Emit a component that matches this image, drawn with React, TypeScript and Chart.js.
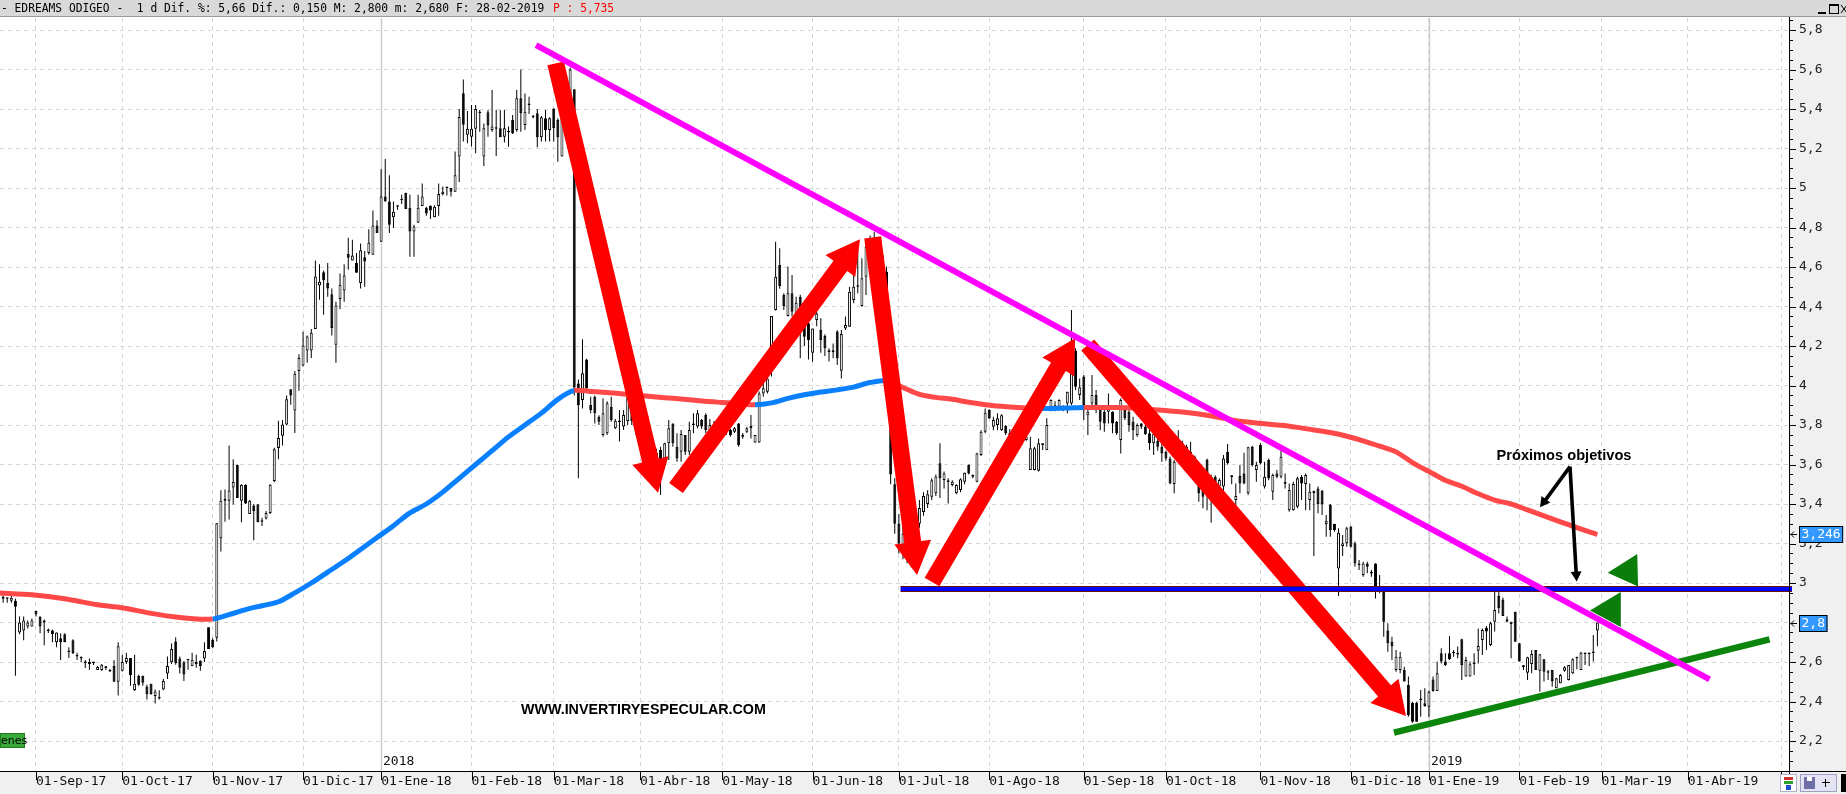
import React, { useEffect, useRef } from 'react';
import { Chart, registerables } from 'chart.js';

Chart.register(...registerables);

const W = 1846;
const H = 794;

// ---------------- DATA (daily candles, x = trading-day index) ----------------
const firstIdx = 1;

const openP = [
  2.92, 2.92, 2.91, 2.91, 2.75, 2.76, 2.78, 2.78, 2.86, 2.83,
  2.81, 2.76, 2.76, 2.70, 2.72, 2.74, 2.65, 2.71, 2.63, 2.62,
  2.594, 2.59, 2.595, 2.56, 2.56, 2.57, 2.552, 2.58, 2.50, 2.556,
  2.60, 2.62, 2.457, 2.53, 2.53, 2.476, 2.49, 2.428, 2.422, 2.461,
  2.542, 2.599, 2.704, 2.618, 2.599, 2.61, 2.58, 2.59, 2.605, 2.618,
  2.776, 2.713, 2.723, 3.227, 3.417, 3.417, 3.483, 3.597, 3.417, 3.498,
  3.35, 3.392, 3.398, 3.315, 3.327, 3.354, 3.517, 3.683, 3.746, 3.803,
  3.981, 3.873, 4.073, 4.101, 4.177, 4.177, 4.286, 4.506, 4.573, 4.519,
  4.462, 4.206, 4.438, 4.481, 4.666, 4.633, 4.62, 4.519, 4.649, 4.671,
  4.662, 4.81, 4.728, 4.957, 4.932, 4.852, 4.905, 4.938, 4.976, 4.90,
  4.78, 4.824, 4.909, 4.90, 4.909, 4.852, 4.909, 4.97, 5.0, 5.0,
  4.981, 5.16, 5.48, 5.27, 5.26, 5.30, 5.386, 5.159, 5.383, 5.294,
  5.302, 5.302, 5.26, 5.282, 5.344, 5.294, 5.454, 5.319, 5.42, 5.358,
  5.378, 5.257, 5.353, 5.294, 5.403, 5.344, 5.159, 5.40, 5.40, 5.50,
  4.01, 3.927, 4.132, 3.901, 3.943, 3.842, 3.749, 3.758, 3.893, 3.783,
  3.817, 3.792, 3.82, 3.90, 3.83, 3.78, 3.72, 3.76, 3.70, 3.62,
  3.673, 3.631, 3.707, 3.808, 3.69, 3.665, 3.749, 3.665, 3.80, 3.792,
  3.825, 3.851, 3.77, 3.80, 3.76, 3.80, 3.77, 3.775, 3.766, 3.808,
  3.741, 3.766, 3.795, 3.712, 3.712, 3.96, 3.969, 4.18, 4.382, 4.61,
  4.458, 4.352, 4.467, 4.349, 4.45, 4.315, 4.315, 4.166, 4.332, 4.281,
  4.251, 4.171, 4.171, 4.273, 4.075, 4.289, 4.298, 4.433, 4.50, 4.403,
  4.551, 4.65, 4.72, 4.62, 4.66, 4.576, 4.00, 3.50, 3.30, 3.18,
  3.25, 3.16, 3.12, 3.30, 3.36, 3.40, 3.437, 3.454, 3.606, 3.521,
  3.513, 3.496, 3.454, 3.471, 3.513, 3.597, 3.547, 3.513, 3.648, 3.766,
  3.876, 3.791, 3.80, 3.774, 3.795, 3.76, 3.72, 3.76, 3.72, 3.724,
  3.572, 3.572, 3.569, 3.699, 3.673, 3.88, 3.88, 3.893, 3.884, 3.909,
  3.909, 4.176, 3.952, 4.045, 3.85, 3.909, 3.952, 3.893, 3.867, 3.867,
  3.867, 3.817, 3.724, 3.876, 3.867, 3.817, 3.749, 3.808, 3.791, 3.758,
  3.707, 3.72, 3.69, 3.665, 3.631, 3.501, 3.72, 3.707, 3.69, 3.665,
  3.639, 3.53, 3.53, 3.623, 3.437, 3.538, 3.488, 3.488, 3.665, 3.538,
  3.42, 3.542, 3.555, 3.454, 3.69, 3.572, 3.699, 3.488, 3.623, 3.462,
  3.555, 3.538, 3.504, 3.369, 3.369, 3.386, 3.538, 3.501, 3.42, 3.467,
  3.479, 3.467, 3.299, 3.395, 3.299, 3.074, 3.187, 3.201, 3.285, 3.201,
  3.091, 3.04, 3.099, 3.049, 3.099, 2.973, 2.956, 2.759, 2.703, 2.56,
  2.56, 2.56, 2.484, 2.394, 2.394, 2.408, 2.391, 2.374, 2.512, 2.453,
  2.644, 2.602, 2.644, 2.652, 2.639, 2.715, 2.526, 2.526, 2.588, 2.657,
  2.711, 2.774, 2.686, 2.804, 2.934, 2.917, 2.816, 2.792, 2.855, 2.695,
  2.576, 2.546, 2.59, 2.661, 2.556, 2.614, 2.546, 2.56, 2.467, 2.492,
  2.556, 2.509, 2.543, 2.619, 2.56, 2.64, 2.64, 2.645, 2.76,
];

const highP = [
  2.94, 2.925, 2.935, 2.92, 2.83, 2.83, 2.81, 2.82, 2.86, 2.83,
  2.815, 2.77, 2.765, 2.75, 2.745, 2.745, 2.675, 2.715, 2.647, 2.628,
  2.61, 2.618, 2.60, 2.58, 2.59, 2.58, 2.565, 2.61, 2.70, 2.637,
  2.647, 2.62, 2.637, 2.535, 2.53, 2.485, 2.49, 2.461, 2.457, 2.514,
  2.628, 2.694, 2.725, 2.628, 2.605, 2.61, 2.647, 2.637, 2.609, 2.70,
  2.776, 2.72, 3.303, 3.47, 3.474, 3.696, 3.626, 3.60, 3.50, 3.50,
  3.42, 3.40, 3.40, 3.331, 3.365, 3.50, 3.685, 3.822, 3.825, 3.949,
  3.981, 4.073, 4.158, 4.272, 4.253, 4.286, 4.633, 4.614, 4.582, 4.62,
  4.491, 4.424, 4.567, 4.614, 4.748, 4.738, 4.671, 4.719, 4.681, 4.791,
  4.886, 4.837, 5.095, 5.147, 5.065, 4.932, 4.913, 4.966, 4.976, 4.966,
  4.814, 4.966, 5.023, 4.905, 4.913, 4.913, 5.023, 5.008, 5.0, 5.0,
  5.185, 5.40, 5.55, 5.39, 5.42, 5.42, 5.395, 5.327, 5.395, 5.496,
  5.395, 5.395, 5.395, 5.311, 5.37, 5.496, 5.60, 5.479, 5.462, 5.37,
  5.40, 5.365, 5.395, 5.358, 5.403, 5.353, 5.395, 5.45, 5.61, 5.50,
  4.03, 4.234, 4.135, 3.943, 3.95, 3.85, 3.935, 3.92, 3.943, 3.83,
  3.876, 3.876, 3.96, 3.93, 3.85, 3.80, 3.78, 3.77, 3.72, 3.68,
  3.69, 3.71, 3.825, 3.808, 3.758, 3.775, 3.75, 3.817, 3.859, 3.876,
  3.83, 3.86, 3.83, 3.82, 3.81, 3.82, 3.80, 3.78, 3.79, 3.81,
  3.76, 3.79, 3.851, 3.75, 3.97, 4.045, 4.05, 4.352, 4.728, 4.695,
  4.467, 4.602, 4.559, 4.45, 4.46, 4.33, 4.332, 4.289, 4.40, 4.34,
  4.26, 4.188, 4.213, 4.28, 4.281, 4.349, 4.50, 4.585, 4.686, 4.644,
  4.72, 4.76, 4.779, 4.70, 4.68, 4.602, 4.05, 3.53, 3.35, 3.30,
  3.28, 3.20, 3.32, 3.42, 3.46, 3.47, 3.53, 3.55, 3.707, 3.564,
  3.53, 3.52, 3.50, 3.53, 3.56, 3.60, 3.55, 3.66, 3.774, 3.884,
  3.88, 3.842, 3.859, 3.855, 3.80, 3.78, 3.78, 3.77, 3.76, 3.75,
  3.741, 3.69, 3.732, 3.707, 3.834, 3.93, 3.92, 3.93, 3.90, 3.969,
  4.382, 4.188, 4.036, 4.053, 3.893, 4.053, 3.977, 3.895, 3.893, 3.96,
  3.87, 3.82, 3.935, 3.88, 3.893, 3.842, 3.808, 3.81, 3.80, 3.783,
  3.774, 3.73, 3.724, 3.67, 3.64, 3.623, 3.774, 3.72, 3.70, 3.715,
  3.645, 3.54, 3.54, 3.63, 3.55, 3.545, 3.53, 3.648, 3.704, 3.547,
  3.504, 3.597, 3.66, 3.69, 3.695, 3.614, 3.707, 3.614, 3.631, 3.555,
  3.572, 3.699, 3.555, 3.504, 3.513, 3.538, 3.547, 3.555, 3.504, 3.467,
  3.488, 3.471, 3.344, 3.40, 3.30, 3.277, 3.243, 3.285, 3.29, 3.21,
  3.116, 3.108, 3.108, 3.066, 3.10, 3.041, 2.96, 2.796, 2.728, 2.661,
  2.652, 2.576, 2.526, 2.399, 2.399, 2.458, 2.467, 2.455, 2.526, 2.602,
  2.669, 2.644, 2.732, 2.661, 2.678, 2.718, 2.627, 2.602, 2.644, 2.77,
  2.77, 2.782, 2.804, 2.956, 2.956, 2.927, 2.83, 2.804, 2.855, 2.695,
  2.585, 2.627, 2.661, 2.661, 2.639, 2.615, 2.56, 2.56, 2.52, 2.539,
  2.58, 2.585, 2.619, 2.627, 2.652, 2.647, 2.647, 2.737, 2.80,
];

const lowP = [
  2.90, 2.90, 2.90, 2.53, 2.74, 2.71, 2.77, 2.78, 2.83, 2.745,
  2.685, 2.747, 2.70, 2.675, 2.61, 2.70, 2.62, 2.64, 2.61, 2.60,
  2.57, 2.56, 2.585, 2.56, 2.555, 2.56, 2.55, 2.50, 2.43, 2.552,
  2.59, 2.48, 2.453, 2.48, 2.48, 2.41, 2.434, 2.39, 2.41, 2.457,
  2.514, 2.59, 2.586, 2.542, 2.504, 2.561, 2.58, 2.571, 2.556, 2.60,
  2.666, 2.67, 2.704, 3.16, 3.31, 3.322, 3.398, 3.43, 3.308, 3.40,
  3.35, 3.217, 3.308, 3.289, 3.322, 3.35, 3.51, 3.626, 3.696, 3.797,
  3.902, 3.759, 3.974, 4.096, 4.115, 4.139, 4.286, 4.434, 4.358, 4.449,
  4.253, 4.115, 4.386, 4.424, 4.586, 4.633, 4.571, 4.491, 4.50, 4.662,
  4.662, 4.772, 4.728, 4.932, 4.772, 4.799, 4.89, 4.919, 4.894, 4.652,
  4.652, 4.824, 4.909, 4.86, 4.843, 4.852, 4.86, 4.962, 4.962, 4.957,
  4.981, 5.03, 5.235, 5.226, 5.21, 5.176, 5.285, 5.111, 5.26, 5.285,
  5.162, 5.257, 5.23, 5.209, 5.273, 5.285, 5.285, 5.294, 5.375, 5.353,
  5.206, 5.235, 5.235, 5.235, 5.235, 5.133, 5.159, 5.25, 5.38, 3.95,
  3.53, 3.884, 3.97, 3.859, 3.808, 3.80, 3.741, 3.75, 3.817, 3.78,
  3.716, 3.775, 3.80, 3.80, 3.75, 3.70, 3.70, 3.66, 3.60, 3.55,
  3.446, 3.62, 3.623, 3.69, 3.614, 3.614, 3.648, 3.648, 3.758, 3.783,
  3.78, 3.76, 3.75, 3.74, 3.74, 3.75, 3.75, 3.74, 3.76, 3.69,
  3.73, 3.76, 3.732, 3.71, 3.71, 3.943, 3.96, 4.045, 4.38, 4.49,
  4.382, 4.349, 4.35, 4.30, 4.138, 4.20, 4.132, 4.12, 4.30, 4.166,
  4.15, 4.121, 4.138, 4.104, 4.036, 4.281, 4.298, 4.416, 4.467, 4.399,
  4.458, 4.60, 4.60, 4.58, 4.55, 4.38, 3.50, 3.25, 3.15, 3.12,
  3.10, 3.08, 3.10, 3.28, 3.34, 3.38, 3.42, 3.44, 3.43, 3.479,
  3.403, 3.49, 3.45, 3.46, 3.50, 3.55, 3.53, 3.51, 3.643, 3.758,
  3.83, 3.774, 3.774, 3.77, 3.75, 3.71, 3.70, 3.70, 3.70, 3.72,
  3.572, 3.57, 3.564, 3.673, 3.673, 3.87, 3.87, 3.89, 3.87, 3.859,
  3.901, 3.977, 3.926, 3.825, 3.749, 3.893, 3.859, 3.774, 3.766, 3.808,
  3.758, 3.749, 3.656, 3.825, 3.766, 3.724, 3.741, 3.78, 3.75, 3.673,
  3.648, 3.67, 3.614, 3.62, 3.50, 3.454, 3.64, 3.68, 3.65, 3.61,
  3.51, 3.412, 3.378, 3.369, 3.305, 3.50, 3.48, 3.445, 3.60, 3.50,
  3.395, 3.454, 3.50, 3.445, 3.59, 3.513, 3.60, 3.479, 3.52, 3.42,
  3.53, 3.53, 3.479, 3.361, 3.366, 3.378, 3.42, 3.369, 3.369, 3.137,
  3.353, 3.344, 3.234, 3.234, 3.26, 2.934, 3.137, 3.184, 3.18, 3.082,
  3.066, 3.032, 3.049, 3.032, 2.922, 2.948, 2.728, 2.652, 2.61, 2.551,
  2.543, 2.501, 2.323, 2.293, 2.298, 2.323, 2.374, 2.323, 2.45, 2.453,
  2.593, 2.58, 2.61, 2.627, 2.619, 2.509, 2.526, 2.526, 2.534, 2.593,
  2.636, 2.661, 2.681, 2.754, 2.846, 2.833, 2.804, 2.619, 2.703, 2.602,
  2.56, 2.509, 2.543, 2.56, 2.45, 2.501, 2.509, 2.475, 2.467, 2.492,
  2.551, 2.506, 2.539, 2.563, 2.56, 2.585, 2.58, 2.602, 2.68,
];

const closeP = [
  2.93, 2.921, 2.925, 2.88, 2.80, 2.81, 2.80, 2.81, 2.84, 2.78,
  2.80, 2.757, 2.74, 2.75, 2.70, 2.70, 2.65, 2.645, 2.628, 2.618,
  2.594, 2.60, 2.594, 2.575, 2.586, 2.571, 2.56, 2.50, 2.68, 2.60,
  2.62, 2.533, 2.49, 2.485, 2.495, 2.438, 2.438, 2.451, 2.415, 2.504,
  2.58, 2.666, 2.594, 2.571, 2.537, 2.609, 2.612, 2.60, 2.58, 2.656,
  2.666, 2.675, 3.303, 3.417, 3.418, 3.468, 3.512, 3.43, 3.498, 3.403,
  3.417, 3.365, 3.308, 3.31, 3.354, 3.498, 3.677, 3.734, 3.803, 3.93,
  3.949, 4.059, 4.139, 4.202, 4.248, 4.267, 4.552, 4.525, 4.533, 4.491,
  4.291, 4.405, 4.51, 4.557, 4.647, 4.658, 4.571, 4.685, 4.628, 4.723,
  4.81, 4.772, 4.957, 4.932, 4.814, 4.88, 4.905, 4.938, 4.894, 4.78,
  4.805, 4.90, 4.957, 4.871, 4.886, 4.905, 4.97, 4.981, 5.0, 4.981,
  5.065, 5.36, 5.32, 5.30, 5.30, 5.40, 5.378, 5.302, 5.316, 5.311,
  5.30, 5.257, 5.302, 5.282, 5.277, 5.454, 5.378, 5.386, 5.42, 5.365,
  5.257, 5.358, 5.294, 5.353, 5.302, 5.257, 5.378, 5.30, 5.60, 3.99,
  3.90, 4.062, 3.986, 3.876, 3.859, 3.817, 3.859, 3.91, 3.825, 3.822,
  3.815, 3.851, 3.94, 3.82, 3.77, 3.72, 3.76, 3.69, 3.65, 3.66,
  3.623, 3.707, 3.783, 3.707, 3.631, 3.754, 3.665, 3.775, 3.80, 3.859,
  3.792, 3.775, 3.80, 3.76, 3.80, 3.77, 3.79, 3.75, 3.783, 3.699,
  3.749, 3.783, 3.783, 3.749, 3.96, 3.986, 4.036, 4.352, 4.551, 4.504,
  4.403, 4.467, 4.374, 4.419, 4.30, 4.247, 4.23, 4.289, 4.365, 4.23,
  4.188, 4.17, 4.17, 4.138, 4.261, 4.306, 4.475, 4.50, 4.50, 4.543,
  4.703, 4.72, 4.65, 4.66, 4.58, 4.40, 3.55, 3.30, 3.20, 3.25,
  3.15, 3.12, 3.30, 3.38, 3.44, 3.45, 3.52, 3.539, 3.53, 3.555,
  3.512, 3.513, 3.496, 3.525, 3.558, 3.555, 3.538, 3.656, 3.766, 3.862,
  3.834, 3.825, 3.834, 3.85, 3.758, 3.73, 3.76, 3.72, 3.74, 3.741,
  3.682, 3.682, 3.707, 3.70, 3.80, 3.926, 3.90, 3.926, 3.893, 3.969,
  4.061, 3.994, 3.991, 3.901, 3.867, 3.952, 3.876, 3.817, 3.808, 3.893,
  3.808, 3.758, 3.926, 3.834, 3.80, 3.774, 3.80, 3.791, 3.754, 3.707,
  3.754, 3.69, 3.656, 3.631, 3.504, 3.614, 3.66, 3.69, 3.656, 3.623,
  3.521, 3.454, 3.437, 3.488, 3.538, 3.504, 3.521, 3.631, 3.606, 3.537,
  3.44, 3.504, 3.504, 3.687, 3.597, 3.597, 3.606, 3.538, 3.53, 3.547,
  3.538, 3.639, 3.503, 3.471, 3.501, 3.53, 3.504, 3.547, 3.462, 3.454,
  3.40, 3.40, 3.315, 3.268, 3.268, 3.255, 3.201, 3.277, 3.184, 3.099,
  3.099, 3.099, 3.082, 3.048, 2.981, 2.956, 2.804, 2.695, 2.678, 2.627,
  2.627, 2.501, 2.332, 2.298, 2.298, 2.407, 2.377, 2.45, 2.453, 2.543,
  2.602, 2.585, 2.614, 2.644, 2.638, 2.585, 2.61, 2.588, 2.598, 2.681,
  2.762, 2.754, 2.796, 2.863, 2.872, 2.833, 2.804, 2.804, 2.703, 2.602,
  2.575, 2.624, 2.641, 2.56, 2.639, 2.551, 2.545, 2.501, 2.518, 2.534,
  2.573, 2.585, 2.614, 2.624, 2.647, 2.647, 2.647, 2.65, 2.80,
];

const maIdx = [
  0, 8, 16, 24, 30, 36, 42, 48, 52, 56,
  60, 64, 68, 72, 76, 80, 84, 88, 92, 96,
  100, 104, 108, 112, 116, 120, 124, 128, 132, 136,
  140, 144, 148, 152, 156, 160, 164, 168, 172, 176,
  180, 184, 188, 192, 196, 200, 204, 208, 212, 216,
  220, 224, 228, 232, 236, 240, 244, 248, 252, 256,
  260, 264, 268, 272, 276, 280, 284, 288, 292, 296,
  300, 304, 308, 312, 316, 320, 324, 328, 332, 336,
  340, 344, 348, 352, 356, 360, 364, 368, 372, 376,
  380, 384, 388, 389,
];
const maVal = [
  2.95, 2.94, 2.92, 2.89, 2.875, 2.85, 2.83, 2.818, 2.818, 2.84,
  2.865, 2.885, 2.905, 2.95, 3.00, 3.055, 3.11, 3.17, 3.23, 3.29,
  3.355, 3.40, 3.46, 3.53, 3.60, 3.67, 3.74, 3.80, 3.86, 3.93,
  3.975, 3.97, 3.965, 3.957, 3.95, 3.942, 3.935, 3.928, 3.92, 3.914,
  3.908, 3.902, 3.912, 3.935, 3.953, 3.967, 3.978, 3.992, 4.015, 4.025,
  3.99, 3.955, 3.94, 3.93, 3.915, 3.903, 3.895, 3.889, 3.885, 3.884,
  3.886, 3.889, 3.889, 3.889, 3.886, 3.879, 3.873, 3.866, 3.856, 3.842,
  3.826, 3.815, 3.806, 3.799, 3.788, 3.775, 3.762, 3.743, 3.72, 3.693,
  3.664, 3.61, 3.565, 3.52, 3.49, 3.452, 3.42, 3.40, 3.37, 3.34,
  3.31, 3.28, 3.252, 3.246,
];

const monthIdx = [9, 30, 52, 74, 93, 115, 135, 156, 176, 198, 219, 241, 264, 284, 307, 329, 348, 370, 390, 411, 433.7];
const monthLabels = [
  '01-Sep-17', '01-Oct-17', '01-Nov-17', '01-Dic-17', '01-Ene-18', '01-Feb-18', '01-Mar-18',
  '01-Abr-18', '01-May-18', '01-Jun-18', '01-Jul-18', '01-Ago-18', '01-Sep-18', '01-Oct-18',
  '01-Nov-18', '01-Dic-18', '01-Ene-19', '01-Feb-19', '01-Mar-19', '01-Abr-19', '',
];
const yearIdx = [93, 348];
const yearLabels = ['2018', '2019'];
const yTickValues = [2.2, 2.4, 2.6, 2.8, 3, 3.2, 3.4, 3.6, 3.8, 4, 4.2, 4.4, 4.6, 4.8, 5, 5.2, 5.4, 5.6, 5.8];

const headerMain = '- EDREAMS ODIGEO -  1 d Dif. %: 5,66 Dif.: 0,150 M: 2,800 m: 2,680 F: 28-02-2019 ';
const headerPrice = 'P : 5,735';
const watermark = 'WWW.INVERTIRYESPECULAR.COM';
const noteText = 'Próximos objetivos';
const volumeTab = 'enes';

// drawn annotations, anchored in data space: [index, price]
const redArrows = [
  [135.48, 5.631, 160.39, 3.457],
  [164.76, 3.481, 209.54, 4.74],
  [212.63, 4.75, 223.41, 3.041],
  [227.06, 3.005, 261.88, 4.239],
  [264.96, 4.205, 342.42, 2.327],
];
const resistanceLine = [130.7, 5.724, 416.3, 2.512];
const supportLine = [339.5, 2.242, 430.9, 2.715];
const levelFrom = 219.4;
const levelValue = 2.969;
const targetTriangles = [
  [[391.5, 3.052], [398.7, 3.147], [398.9, 2.982]],
  [[387.2, 2.861], [394.7, 2.954], [394.7, 2.777]],
];
const noteArrows = [
  [382.33, 3.589, 375.03, 3.383],
  [382.33, 3.589, 383.96, 3.007],
];
const noteAt = [380.87, 3.643];
const watermarkAt = [156.83, 2.357];

// ---------------- rendering ----------------
const X_MIN = 0.2434;
const X_MAX = 435.63;
const Y_MIN = 2.0481;
const Y_MAX = 5.8608;

const MONO = '"DejaVu Sans Mono", "Liberation Mono", monospace';
const SANS = '"Liberation Sans", Arial, sans-serif';
const MA_RED = '#ff4848';
const MA_BLUE = '#0a80ff';

function fmtNum(v: number) {
  return String(Math.round(v * 1000) / 1000).replace('.', ',');
}

function blockArrow(ctx: any, x0: number, y0: number, x1: number, y1: number, shaft: number, headW: number, headL: number, color: string) {
  const dx = x1 - x0, dy = y1 - y0;
  const len = Math.hypot(dx, dy);
  const ux = dx / len, uy = dy / len;
  const nx = -uy, ny = ux;
  const bx = x1 - ux * headL, by = y1 - uy * headL;
  const s = shaft / 2, h = headW / 2;
  ctx.beginPath();
  ctx.moveTo(x0 + nx * s, y0 + ny * s);
  ctx.lineTo(bx + nx * s, by + ny * s);
  ctx.lineTo(bx + nx * h, by + ny * h);
  ctx.lineTo(x1, y1);
  ctx.lineTo(bx - nx * h, by - ny * h);
  ctx.lineTo(bx - nx * s, by - ny * s);
  ctx.lineTo(x0 - nx * s, y0 - ny * s);
  ctx.closePath();
  ctx.fillStyle = color;
  ctx.fill();
}

function fitText(ctx: any, text: string, cx: number, cy: number, width: number, weight: string, family: string) {
  ctx.font = `${weight} 20px ${family}`;
  const w = ctx.measureText(text).width;
  const size = (20 * width) / w;
  ctx.font = `${weight} ${size}px ${family}`;
  ctx.textAlign = 'center';
  ctx.textBaseline = 'middle';
  ctx.fillText(text, cx, cy);
}

const decorPlugin = {
  id: 'decor',
  beforeDraw(chart: any) {
    const { ctx, chartArea: ca } = chart;
    ctx.save();
    ctx.fillStyle = '#ffffff';
    ctx.fillRect(0, 0, W, H);
    ctx.fillStyle = '#f0f0f0';
    ctx.fillRect(ca.right, ca.top - 1, W - ca.right, H - ca.top + 1);
    ctx.fillRect(0, ca.bottom, W, H - ca.bottom);
    ctx.fillStyle = '#d9d9d9';
    ctx.fillRect(0, 0, W, 16);
    ctx.fillStyle = '#9a9a9a';
    ctx.fillRect(0, 16, W, 1);
    ctx.restore();
  },
  beforeDatasetsDraw(chart: any) {
    const { ctx, chartArea: ca, scales } = chart;
    ctx.save();
    ctx.strokeStyle = '#cccccc';
    ctx.lineWidth = 1.5;
    yearIdx.forEach((i) => {
      const px = Math.round(scales.x.getPixelForValue(i)) + 0.5;
      ctx.beginPath();
      ctx.moveTo(px, ca.top);
      ctx.lineTo(px, ca.bottom);
      ctx.stroke();
    });
    ctx.restore();
  },
  afterDatasetsDraw(chart: any) {
    const { ctx, chartArea: ca, scales } = chart;
    const xs = scales.x, ys = scales.y;
    const P = (i: number, v: number) => [xs.getPixelForValue(i), ys.getPixelForValue(v)];
    ctx.save();
    ctx.beginPath();
    ctx.rect(ca.left, ca.top, ca.right - ca.left + 4, ca.bottom - ca.top);
    ctx.clip();

    redArrows.forEach((a) => {
      const p0 = P(a[0], a[1]);
      const p1 = P(a[2], a[3]);
      blockArrow(ctx, p0[0], p0[1], p1[0], p1[1], 17, 37, 33, '#ff0000');
    });

    // horizontal level (blue band with thin dark-red edges)
    const lx0 = xs.getPixelForValue(levelFrom);
    const ly = Math.round(ys.getPixelForValue(levelValue));
    const lw = ca.right + 3 - lx0;
    ctx.fillStyle = '#6a1010';
    ctx.fillRect(lx0, ly - 3, lw, 1);
    ctx.fillRect(lx0, ly + 2, lw, 1);
    ctx.fillStyle = '#0000ff';
    ctx.fillRect(lx0, ly - 2, lw, 4);

    const stroke = (l: number[], w: number, color: string) => {
      const a = P(l[0], l[1]);
      const b = P(l[2], l[3]);
      ctx.beginPath();
      ctx.moveTo(a[0], a[1]);
      ctx.lineTo(b[0], b[1]);
      ctx.lineWidth = w;
      ctx.strokeStyle = color;
      ctx.lineCap = 'butt';
      ctx.stroke();
    };
    stroke(supportLine, 6.5, '#0b850b');
    stroke(resistanceLine, 6, '#ff00ff');

    targetTriangles.forEach((t) => {
      ctx.beginPath();
      t.forEach((pt, k) => {
        const p = P(pt[0], pt[1]);
        if (k === 0) ctx.moveTo(p[0], p[1]);
        else ctx.lineTo(p[0], p[1]);
      });
      ctx.closePath();
      ctx.fillStyle = '#0a7d0a';
      ctx.fill();
    });

    noteArrows.forEach((a) => {
      const p0 = P(a[0], a[1]);
      const p1 = P(a[2], a[3]);
      blockArrow(ctx, p0[0], p0[1], p1[0], p1[1], 3.6, 11, 10, '#000000');
    });
    ctx.restore();

    ctx.save();
    ctx.fillStyle = '#000000';
    const w = P(watermarkAt[0], watermarkAt[1]);
    fitText(ctx, watermark, w[0], w[1], 245, 'bold', SANS);
    const n = P(noteAt[0], noteAt[1]);
    fitText(ctx, noteText, n[0], n[1], 135, 'bold', SANS);
    ctx.restore();
  },
  afterDraw(chart: any) {
    const { ctx, chartArea: ca, scales } = chart;
    const xs = scales.x, ys = scales.y;
    ctx.save();
    ctx.fillStyle = '#000000';
    // axis lines
    ctx.fillRect(0, ca.bottom, W, 1);
    ctx.fillRect(ca.right, ca.top - 1, 1, H - ca.top - 4);
    // x tick marks
    monthIdx.forEach((i) => {
      const px = Math.round(xs.getPixelForValue(i));
      ctx.fillRect(px, ca.bottom, 1, 9);
    });
    // y tick marks (major + minor)
    for (let k = 0; k < 200; k++) {
      const v = 2.05 + k * 0.05;
      if (v > Y_MAX) break;
      const py = Math.round(ys.getPixelForValue(v));
      const major = Math.abs(v * 5 - Math.round(v * 5)) < 1e-6;
      ctx.fillRect(ca.right + 1, py, major ? 6 : 3, 1);
    }
    // year labels
    ctx.font = `13px ${MONO}`;
    ctx.fillStyle = '#111111';
    ctx.textAlign = 'left';
    ctx.textBaseline = 'middle';
    yearIdx.forEach((i, k) => {
      ctx.fillText(yearLabels[k], Math.round(xs.getPixelForValue(i)) + 2, ca.bottom - 9);
    });

    // last-value boxes on the price axis
    const box = (val: number) => {
      const txt = fmtNum(val);
      const py = Math.round(ys.getPixelForValue(val));
      ctx.font = `13px ${MONO}`;
      const tw = ctx.measureText(txt).width;
      const bx = ca.right + 10;
      ctx.fillStyle = '#3399ff';
      ctx.fillRect(bx, py - 8, tw + 5, 17);
      ctx.strokeStyle = '#000000';
      ctx.lineWidth = 1;
      ctx.strokeRect(bx + 0.5, py - 7.5, tw + 4, 16);
      ctx.fillStyle = '#ffffff';
      ctx.textAlign = 'left';
      ctx.textBaseline = 'middle';
      ctx.fillText(txt, bx + 2.5, py + 1);
      ctx.beginPath();
      ctx.moveTo(ca.right + 8, py + 0.5);
      ctx.lineTo(ca.right + 2, py + 0.5);
      ctx.moveTo(ca.right + 5, py - 2.5);
      ctx.lineTo(ca.right + 2, py + 0.5);
      ctx.lineTo(ca.right + 5, py + 3.5);
      ctx.stroke();
    };
    box(maVal[maVal.length - 1]);
    box(closeP[closeP.length - 1]);

    // header line
    ctx.font = `12px ${MONO}`;
    const wm = ctx.measureText(headerMain).width;
    const sx = 550 / wm;
    ctx.save();
    ctx.translate(1, 8.5);
    ctx.scale(sx, 1);
    ctx.textAlign = 'left';
    ctx.textBaseline = 'middle';
    ctx.fillStyle = '#000000';
    ctx.fillText(headerMain, 0, 0);
    ctx.fillStyle = '#ff0000';
    ctx.fillText(headerPrice, wm + 2 / sx, 0);
    ctx.restore();

    // window buttons
    ctx.fillStyle = '#000000';
    ctx.fillRect(1818, 12, 8, 2);
    ctx.strokeStyle = '#000000';
    ctx.lineWidth = 1;
    ctx.strokeRect(1829.5, 4.5, 9, 9);
    ctx.fillRect(1829, 4, 10, 2);
    ctx.beginPath();
    ctx.moveTo(1841, 5);
    ctx.lineTo(1847, 13);
    ctx.moveTo(1847, 5);
    ctx.lineTo(1841, 13);
    ctx.stroke();

    // bottom-right small icons
    ctx.fillStyle = '#ffffff';
    ctx.fillRect(1780, 774, 17, 18);
    ctx.strokeStyle = '#b0b0c8';
    ctx.strokeRect(1780.5, 774.5, 16, 17);
    ctx.fillStyle = '#d03030';
    ctx.fillRect(1784, 777, 9, 3);
    ctx.fillStyle = '#30a030';
    ctx.fillRect(1784, 781, 9, 3);
    ctx.fillStyle = '#2050d0';
    ctx.fillRect(1786, 785, 5, 5);
    ctx.fillStyle = '#e4e4f4';
    ctx.fillRect(1800, 774, 37, 18);
    ctx.strokeStyle = '#a0a0c0';
    ctx.strokeRect(1800.5, 774.5, 36, 17);
    ctx.fillStyle = '#7070a8';
    ctx.fillRect(1804, 777, 11, 12);
    ctx.fillStyle = '#ffffff';
    ctx.fillRect(1807, 777, 5, 4);
    ctx.fillStyle = '#000000';
    ctx.fillRect(1822, 782, 8, 1);
    ctx.fillRect(1825, 779, 1, 8);
    ctx.fillRect(1841, 774, 5, 18);

    // volume tab
    ctx.fillStyle = '#38a838';
    ctx.fillRect(0, 733, 25, 15);
    ctx.strokeStyle = '#1e7d1e';
    ctx.strokeRect(0.5, 733.5, 24, 14);
    ctx.fillStyle = '#000000';
    ctx.font = `11px "DejaVu Sans", sans-serif`;
    ctx.textAlign = 'left';
    ctx.textBaseline = 'middle';
    ctx.fillText(volumeTab, 1, 741);
    ctx.restore();
  },
};

export default function App() {
  const ref = useRef<HTMLCanvasElement>(null);

  useEffect(() => {
    document.body.style.margin = '0';
    const canvas = ref.current;
    if (!canvas) return;

    const idxs = openP.map((_, k) => firstIdx + k);
    const wickData = idxs.map((x, k) => ({
      x,
      y: [Math.min(lowP[k], openP[k], closeP[k]), Math.max(highP[k], openP[k], closeP[k])],
    }));
    const bodyData = idxs.map((x, k) => {
      const lo = Math.min(openP[k], closeP[k]);
      const hi = Math.max(openP[k], closeP[k], lo + 0.008);
      return { x, y: [lo, hi] };
    });
    const upFlags = idxs.map((_, k) => closeP[k] >= openP[k]);
    const maData = maIdx.map((x, k) => ({ x, y: maVal[k] }));

    const chart = new Chart(canvas, {
      type: 'bar',
      data: {
        datasets: [
          {
            type: 'line',
            label: 'media',
            data: maData,
            borderColor: MA_RED,
            borderWidth: 5,
            pointRadius: 0,
            tension: 0.3,
            borderCapStyle: 'butt',
            order: 0,
            segment: {
              borderColor: (c: any) => {
                const k = c.p1DataIndex;
                const cl = closeP[maIdx[k] - firstIdx];
                return cl !== undefined && cl > maVal[k] ? MA_BLUE : MA_RED;
              },
            },
          } as any,
          {
            type: 'bar',
            label: 'cuerpo',
            data: bodyData,
            backgroundColor: (c: any) => (upFlags[c.dataIndex] ? '#ffffff' : '#000000'),
            borderColor: '#000000',
            borderWidth: 1,
            borderSkipped: false,
            grouped: false,
            maxBarThickness: 4,
            inflateAmount: 0,
            order: 1,
          } as any,
          {
            type: 'bar',
            label: 'mecha',
            data: wickData,
            backgroundColor: '#000000',
            borderWidth: 0,
            grouped: false,
            maxBarThickness: 1,
            inflateAmount: 0,
            order: 2,
          } as any,
        ],
      },
      options: {
        responsive: false,
        animation: false,
        devicePixelRatio: 1,
        events: [],
        layout: { padding: { top: 18, left: 0, right: 0, bottom: 0 }, autoPadding: false },
        plugins: { legend: { display: false }, tooltip: { enabled: false } },
        scales: {
          x: {
            type: 'linear',
            position: 'bottom',
            min: X_MIN,
            max: X_MAX,
            offset: false,
            afterBuildTicks: (s: any) => {
              s.ticks = monthIdx.map((v) => ({ value: v }));
            },
            afterFit: (s: any) => {
              s.height = 23;
            },
            grid: { color: '#d6d6d6', lineWidth: 1, drawTicks: false, offset: false },
            border: { display: false, dash: [4, 4] },
            ticks: {
              autoSkip: false,
              maxRotation: 0,
              minRotation: 0,
              align: 'start',
              padding: 3,
              color: '#111111',
              font: { family: MONO, size: 13 },
              callback: (_v: any, i: number) => monthLabels[i] ?? '',
            },
          },
          y: {
            type: 'linear',
            position: 'right',
            min: Y_MIN,
            max: Y_MAX,
            beginAtZero: false,
            afterBuildTicks: (s: any) => {
              s.ticks = yTickValues.map((v) => ({ value: v }));
            },
            afterFit: (s: any) => {
              s.width = 57;
            },
            grid: { color: '#d6d6d6', lineWidth: 1, drawTicks: false },
            border: { display: false, dash: [4, 4] },
            ticks: {
              padding: 10,
              crossAlign: 'near',
              color: '#222222',
              font: { family: MONO, size: 13 },
              callback: (v: any) => fmtNum(Number(v)),
            },
          },
        },
      } as any,
      plugins: [decorPlugin],
    } as any);

    return () => chart.destroy();
  }, []);

  return <canvas ref={ref} width={W} height={H} style={{ display: 'block', width: W, height: H }} />;
}
